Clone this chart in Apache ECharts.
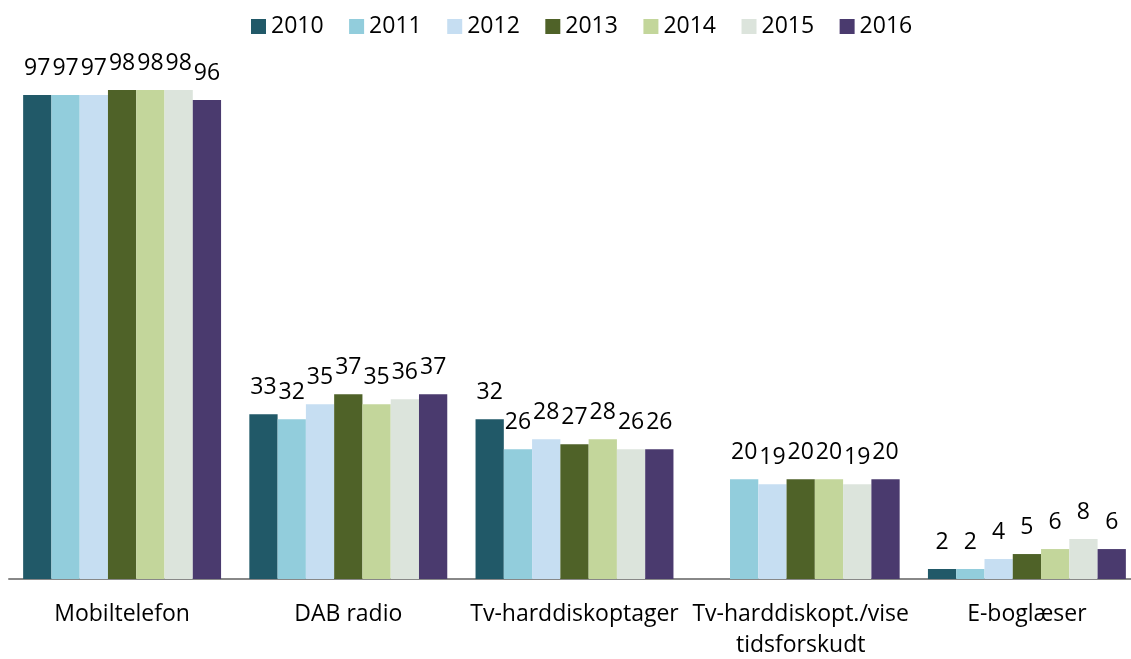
<!DOCTYPE html>
<html>
<head>
<meta charset="utf-8">
<script src="https://cdn.jsdelivr.net/npm/echarts@6/dist/echarts.min.js"></script>
<style>
  html, body { margin: 0; padding: 0; background: #fff; }
  #chart { width: 1131px; height: 659px; }
</style>
</head>
<body>
<div id="chart"></div>
<script>
const categories = ['Mobiltelefon', 'DAB radio', 'Tv-harddiskoptager', 'Tv-harddiskopt./vise\ntidsforskudt', 'E-boglæser']
const years = ['2010', '2011', '2012', '2013', '2014', '2015', '2016']
const colors = ['#215968', '#92CDDC', '#C6DEF2', '#4F6228', '#C3D69B', '#DCE4DC', '#4A3A6E']

// 2010 has no value for the time-shift category
const v2010 = [97, 33, 32, null, 2]
const v2011 = [97, 32, 26, 20, 2]
const v2012 = [97, 35, 28, 19, 4]
const v2013 = [98, 37, 27, 20, 5]
const v2014 = [98, 35, 28, 20, 6]
const v2015 = [98, 36, 26, 19, 8]
const v2016 = [96, 37, 26, 20, 6]
const values = [v2010, v2011, v2012, v2013, v2014, v2015, v2016]

const font = '"Open Sans", sans-serif'
const chart = echarts.init(document.getElementById('chart'))

chart.setOption({
  animation: false,
  textStyle: { fontFamily: font },
  legend: {
    top: 10,
    left: 246,
    itemWidth: 15,
    itemHeight: 15,
    itemGap: 25.5,
    icon: 'rect',
    textStyle: { fontSize: 23, color: '#000', fontFamily: font },
    data: years
  },
  grid: { left: 9, width: 1131, top: 80, bottom: 80, outerBoundsMode: 'none', containLabel: false },
  xAxis: {
    type: 'category',
    data: categories,
    axisLine: { lineStyle: { color: '#888', width: 2 } },
    axisTick: { show: false },
    axisLabel: { interval: 0, color: '#000', fontSize: 23, margin: 20, lineHeight: 31, fontFamily: font }
  },
  yAxis: {
    type: 'value',
    min: 0,
    max: 100,
    show: false
  },
  series: years.map((y, i) => ({
    name: y,
    type: 'bar',
    data: values[i],
    barGap: '0%',
    barCategoryGap: '12.5%',
    itemStyle: { color: colors[i] },
    label: {
      show: true,
      position: 'top',
      distance: 15,
      color: '#000',
      fontSize: 23,
      fontFamily: font
    }
  }))
})
</script>
</body>
</html>
